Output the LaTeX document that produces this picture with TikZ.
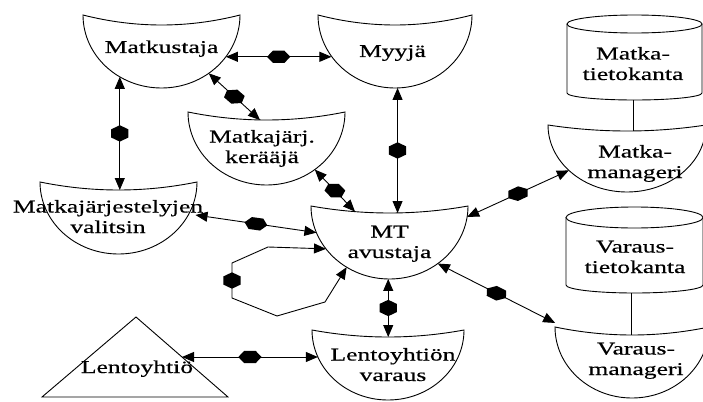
\documentclass[tikz,border=0pt]{standalone}
\usepackage{fontspec}
\setmainfont{Liberation Serif}[FakeStretch=1.42,FakeBold=0.4]
\usetikzlibrary{arrows.meta,shapes.geometric}

% bowl-shaped agent: name, centre x, top y, half width, depth, sag of the top edge
\newcommand\bowl[6]{%
  \node[bowlref,minimum width={2*#4},minimum height={2*#5}] (#1) at (#2,-#3) {};
  \coordinate (#1-t) at (#2,-#3-#6);
  \draw[outline] (#2-#4,-#3) .. controls (#2-#4/3,-#3-4*#6/3) and (#2+#4/3,-#3-4*#6/3) .. (#2+#4,-#3)
    arc[start angle=0,end angle=-180,x radius=#4,y radius=#5] -- cycle;}

% database cylinder: centre x, half width, top ellipse y, its radius, bottom y, bottom radius
\newcommand\cyl[6]{%
  \draw[outline] (#1,-#3) ellipse [x radius=#2, y radius=#4];
  \draw[outline] (#1-#2,-#3) -- (#1-#2,-#5)
    arc[start angle=180,end angle=360,x radius=#2,y radius=#6] -- (#1+#2,-#3);}

\begin{document}
\begin{tikzpicture}[x=1pt,y=1pt,
  >={Triangle[length=12pt,width=10pt]},
  outline/.style={draw=black,line width=0.9pt},
  bowlref/.style={ellipse,inner sep=0pt,outer sep=0pt},
  txt/.style={font=\fontsize{18}{20.5}\selectfont,align=center,anchor=base,inner sep=0pt},
  conn/.style={line width=0.9pt,<->},
  plainline/.style={line width=0.9pt},
  % message marker: elongated hexagon along the line (angle given in the unstretched frame)
  hexm/.style={regular polygon,regular polygon sides=6,fill=black,draw=none,
    minimum size=14pt,inner sep=0pt,xscale=1.42,rotate=#1,xscale=1.17}]

\fill[white] (0,0) rectangle (703,-401);
\useasboundingbox (0,0) rectangle (703,-401);

% agents
\bowl{mk}{161.5}{15}{78.5}{73}{10}
\bowl{my}{395}{15}{77}{73}{10}
\bowl{ke}{266.5}{112}{78.5}{73}{8}
\bowl{va}{118.5}{182}{78.5}{72}{8}
\bowl{mt}{389.5}{206}{78.5}{73}{7}
\bowl{lv}{388}{330}{76}{70}{7}
\bowl{mm}{627}{125}{79}{67}{6}
\bowl{vm}{632}{327}{77}{71}{8}

% databases
\cyl{634.5}{67.5}{24}{9}{93}{7}
\cyl{634.5}{68.5}{217.5}{10.5}{285}{8}
\coordinate (dbm-b) at (633,-100);
\coordinate (dbv-b) at (631,-293);

% airline (external)
\draw[outline] (136,-317) -- (228,-397) -- (42,-397) -- cycle;
\coordinate (le-r) at (182,-357);

% texts
\node[txt] (mk-l) at (161.5,-53) {Matkustaja};
\node[txt] (my-l) at (392.5,-57) {Myyjä};
\node[txt] (ke-l) at (262,-163) {Matkajärj.\\kerääjä};
\node[txt] (va-l) at (108,-233) {Matkajärjestelyjen\\valitsin};
\node[txt] (mt-l) at (389.5,-258) {MT\\avustaja};
\node[txt] (lv-l) at (393,-381) {Lentoyhtiön\\varaus};
\node[txt] (le) at (137,-373) {Lentoyhtiö};
\node[txt] (dbm) at (633,-80) {Matka-\\tietokanta};
\node[txt] (mm-l) at (635,-178) {Matka-\\manageri};
\node[txt] (dbv) at (635,-273) {Varaus-\\tietokanta};
\node[txt] (vm-l) at (636,-375) {Varaus-\\manageri};

% conversations
\draw[conn] (mk.-33) -- node[hexm=0,pos=0.5]{} (mk.-33 -| my.-147);
\draw[conn] (mk.-51.6) -- node[hexm=-50.8,pos=0.5]{} ([shift={(-6.5,0)}]ke-t);
\draw[conn] (mk.-124.7) -- node[hexm=90,pos=0.5]{} (mk.-124.7 |- va-t);
\draw[conn] (my.-88.4) -- node[hexm=90,pos=0.5]{} (my.-88.4 |- mt-t);
\draw[conn] (ke.-50) -- node[hexm=-55.9,pos=0.5]{} ([shift={(-34.5,1.4)}]mt-t);
\draw[conn] ([shift={(77,-33)}]va.center) -- node[hexm=-11.1,pos=0.5]{} (mt.-160.8);
\draw[conn] (mt.-125) -- (325,-302) -- (277,-316) -- (232,-298)
  -- node[hexm=90,pos=0.5]{} (232,-263) -- (268,-247) -- (mt.-146.3);
\draw[conn] (mt.-91) -- node[hexm=90,pos=0.5]{} (mt.-91 |- lv-t);
\draw[conn] (le-r) -- node[hexm=0,pos=0.5]{} (le-r -| lv.-159.7);
\draw[conn] (mt.-8.8) -- node[hexm=33.5,pos=0.5]{} (mm.-142);
\draw[conn] (mt.-50) -- node[hexm=-35.8,pos=0.5]{} (vm.177);

% database links
\draw[plainline] (dbm-b) -- (dbm-b |- mm-t);
\draw[plainline] (dbv-b) -- (dbv-b |- vm-t);
\end{tikzpicture}
\end{document}
